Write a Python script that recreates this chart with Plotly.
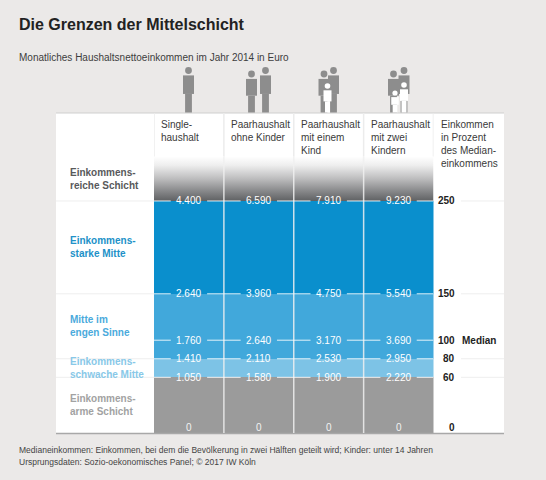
import plotly.graph_objects as go

W, H = 546, 480
FONT = "Liberation Sans, Arial, sans-serif"

# Data
households = ["Single-<br>haushalt", "Paarhaushalt<br>ohne Kinder",
              "Paarhaushalt<br>mit einem<br>Kind", "Paarhaushalt<br>mit zwei<br>Kindern"]
percent_levels = [0, 60, 80, 100, 150, 250]
single = [0, 1050, 1410, 1760, 2640, 4400]
couple = [0, 1580, 2110, 2640, 3960, 6590]
couple_one_child = [0, 1900, 2530, 3170, 4750, 7910]
couple_two_children = [0, 2220, 2950, 3690, 5540, 9230]
euro_values = [single, couple, couple_one_child, couple_two_children]

layer_names = ["Einkommens-<br>arme Schicht", "Einkommens-<br>schwache Mitte",
               "Mitte im<br>engen Sinne", "Einkommens-<br>starke Mitte",
               "Einkommens-<br>reiche Schicht"]
layer_lower = [0, 60, 80, 150, 250]
layer_upper = [60, 80, 150, 250, 298]
layer_colors = ["#9b9b9b", "#7dc3e6", "#41a8db", "#0a8fcd", None]
label_colors = ["#a2a2a2", "#88c8e8", "#4aaadc", "#2191c8", "#58595b"]

# pixel helpers for the decoration
def px(x):
    return x / W

def py(y):
    return 1 - y / H

cols = list(range(len(households)))
fig = go.Figure()

# colored bands (bars from layer bounds)
for lo, hi, c in zip(layer_lower, layer_upper, layer_colors):
    if c is None:
        continue
    fig.add_trace(go.Bar(
        x=cols, y=[hi - lo] * len(cols), base=[lo] * len(cols),
        width=1, marker=dict(color=c, line=dict(width=0)),
        hoverinfo="skip",
    ))

# top band: fading gray
lo, hi = layer_lower[-1], layer_upper[-1]
fig.add_trace(go.Scatter(
    x=[-0.5, 3.5, 3.5, -0.5, -0.5], y=[lo, lo, hi, hi, lo],
    mode="none", fill="toself",
    fillgradient=dict(type="vertical",
                      colorscale=[[0, "#5f6163"], [0.2, "#838486"], [0.5, "#bdbdbe"],
                                  [0.8, "#eeeeee"], [1, "#ffffff"]]),
    hoverinfo="skip",
))

shapes = []
annotations = []

# white panel
shapes.append(dict(type="rect", xref="paper", yref="paper", x0=px(56), x1=px(504),
                   y0=py(433), y1=py(113), fillcolor="white", line=dict(width=0), layer="below"))
shapes.append(dict(type="line", xref="paper", yref="paper", x0=px(56), x1=px(504),
                   y0=py(113), y1=py(113), line=dict(color="#cfcfcf", width=1)))
shapes.append(dict(type="line", xref="paper", yref="paper", x0=px(56), x1=px(504),
                   y0=py(433.5), y1=py(433.5), line=dict(color="#a8a8a8", width=1.5)))

# column separators
for i in range(len(households) + 1):
    xs = i - 0.5
    shapes.append(dict(type="line", xref="x", yref="y", x0=xs, x1=xs, y0=layer_upper[-1], y1=345,
                       line=dict(color="#ececec", width=1.5)))
    if 0 < i < len(households):
        shapes.append(dict(type="line", xref="x", yref="y", x0=xs, x1=xs, y0=0, y1=layer_upper[-1],
                           line=dict(color="rgba(240,240,240,0.85)", width=1.5)))

# faint row lines in label column and percent column
for lvl in [60, 80, 150, 250]:
    shapes.append(dict(type="line", xref="paper", yref="y", x0=px(56), x1=px(154), y0=lvl, y1=lvl,
                       line=dict(color="#eeeeee", width=1)))
    shapes.append(dict(type="line", xref="paper", yref="y", x0=px(461), x1=px(504), y0=lvl, y1=lvl,
                       line=dict(color="#eeeeee", width=1)))

# value labels with lines
for i, vals in enumerate(euro_values):
    for lvl, v in zip(percent_levels, vals):
        annotations.append(dict(
            x=i, y=lvl, xref="x", yref="y", text=f"{v:,}".replace(",", "."),
            xanchor="center", yanchor="middle",
            showarrow=False, yshift=6 if lvl == 0 else 0,
            font=dict(family=FONT, size=10, color="#f2f2f2" if lvl == 0 else "white"),
        ))
        if lvl > 0:
            for a, b in [(i - 0.5, i - 0.26), (i + 0.26, i + 0.5)]:
                shapes.append(dict(type="line", xref="x", yref="y", x0=a, x1=b, y0=lvl, y1=lvl,
                                   line=dict(color="rgba(255,255,255,0.85)", width=1)))

# percent column
for lvl in percent_levels:
    annotations.append(dict(
        x=px(457), y=lvl, xref="paper", yref="y", text=str(lvl),
        xanchor="right", yanchor="middle",
        showarrow=False, yshift=6 if lvl == 0 else 0,
        font=dict(family=FONT, size=10, color="#222222", weight="bold"),
    ))
annotations.append(dict(x=px(460), y=100, xref="paper", yref="y", text="Median",
                        xanchor="left", yanchor="middle", showarrow=False,
                        font=dict(family=FONT, size=10, color="#222222", weight="bold")))

# column headers
for i, name in enumerate(households):
    annotations.append(dict(x=i - 0.5, y=py(117), xref="x", yref="paper", text=name,
                            xanchor="left", yanchor="top", align="left", xshift=5, showarrow=False,
                            font=dict(family=FONT, size=10, color="#3a3a3a")))
annotations.append(dict(x=px(439), y=py(117), xref="paper", yref="paper",
                        text="Einkommen<br>in Prozent<br>des Median-<br>einkommens",
                        xanchor="left", yanchor="top", align="left", showarrow=False,
                        font=dict(family=FONT, size=10, color="#3a3a3a")))

# layer labels
for name, lo, hi, c in zip(layer_names, layer_lower, layer_upper, label_colors):
    annotations.append(dict(x=px(68), y=(lo + hi) / 2, xref="paper", yref="y", text=name,
                            xanchor="left", yanchor="middle", align="left", showarrow=False,
                            font=dict(family=FONT, size=10, color=c, weight="bold")))

# title, subtitle, footer
annotations.append(dict(x=px(16.5), y=py(24), xref="paper", yref="paper",
                        text="Die Grenzen der Mittelschicht",
                        xanchor="left", yanchor="middle", showarrow=False,
                        font=dict(family=FONT, size=16, color="#222222", weight="bold")))
annotations.append(dict(x=px(16.5), y=py(57), xref="paper", yref="paper",
                        text="Monatliches Haushaltsnettoeinkommen im Jahr 2014 in Euro",
                        xanchor="left", yanchor="middle", showarrow=False,
                        font=dict(family=FONT, size=10, color="#3d3d3d")))
annotations.append(dict(x=px(16.5), y=py(450), xref="paper", yref="paper",
                        text="Medianeinkommen: Einkommen, bei dem die Bevölkerung in zwei Hälften geteilt wird; Kinder: unter 14 Jahren",
                        xanchor="left", yanchor="middle", showarrow=False,
                        font=dict(family=FONT, size=8.5, color="#444444")))
annotations.append(dict(x=px(16.5), y=py(461.5), xref="paper", yref="paper",
                        text="Ursprungsdaten: Sozio-oekonomisches Panel; © 2017 IW Köln",
                        xanchor="left", yanchor="middle", showarrow=False,
                        font=dict(family=FONT, size=8.5, color="#444444")))

# household icons (simple silhouettes)
def person(cx, head_y, color, r=3.4, w=11.0, ground=112.5):
    s = []
    s.append(dict(type="circle", xref="paper", yref="paper", x0=px(cx - r), x1=px(cx + r),
                  y0=py(head_y + r), y1=py(head_y - r), fillcolor=color, line=dict(width=0)))
    top = head_y + r + 1.5
    mid = top + (ground - top) * 0.5
    s.append(dict(type="rect", xref="paper", yref="paper", x0=px(cx - w / 2), x1=px(cx + w / 2),
                  y0=py(mid), y1=py(top), fillcolor=color, line=dict(width=0)))
    lw = w * 0.62
    s.append(dict(type="rect", xref="paper", yref="paper", x0=px(cx - lw / 2), x1=px(cx + lw / 2),
                  y0=py(ground), y1=py(mid), fillcolor=color, line=dict(width=0)))
    return s

gray = "#8d8d8d"
icons = [
    (188.5, 70.5, gray, 3.4, 11),
    (251.5, 74.0, gray, 3.4, 11), (265.5, 70.5, gray, 3.4, 11),
    (324.0, 74.0, gray, 3.4, 11), (333.5, 70.5, gray, 3.4, 11), (327.5, 86.0, "white", 2.8, 8),
    (393.5, 74.0, gray, 3.4, 11), (404.0, 70.5, gray, 3.4, 11),
    (404.0, 85.0, "white", 2.8, 8), (395.0, 93.0, "white", 2.6, 7.5),
]
for cx, hy, c, r, w in icons:
    shapes.extend(person(cx, hy, c, r, w))

fig.update_layout(
    width=W, height=H,
    margin=dict(l=0, r=0, t=0, b=0, pad=0),
    paper_bgcolor="#ebe9e8",
    plot_bgcolor="rgba(0,0,0,0)",
    showlegend=False,
    barmode="overlay",
    bargap=0,
    xaxis=dict(domain=[px(154), px(433.5)], range=[-0.5, 3.5], visible=False, fixedrange=True),
    yaxis=dict(domain=[py(433), py(113)], range=[0, 344.8], visible=False, fixedrange=True),
    shapes=shapes,
    annotations=annotations,
)

# page has a default body margin; remove it so the figure fills the window
fig.write_html("out.html", config={"displayModeBar": False},
               post_script="document.body.style.margin='0';")
